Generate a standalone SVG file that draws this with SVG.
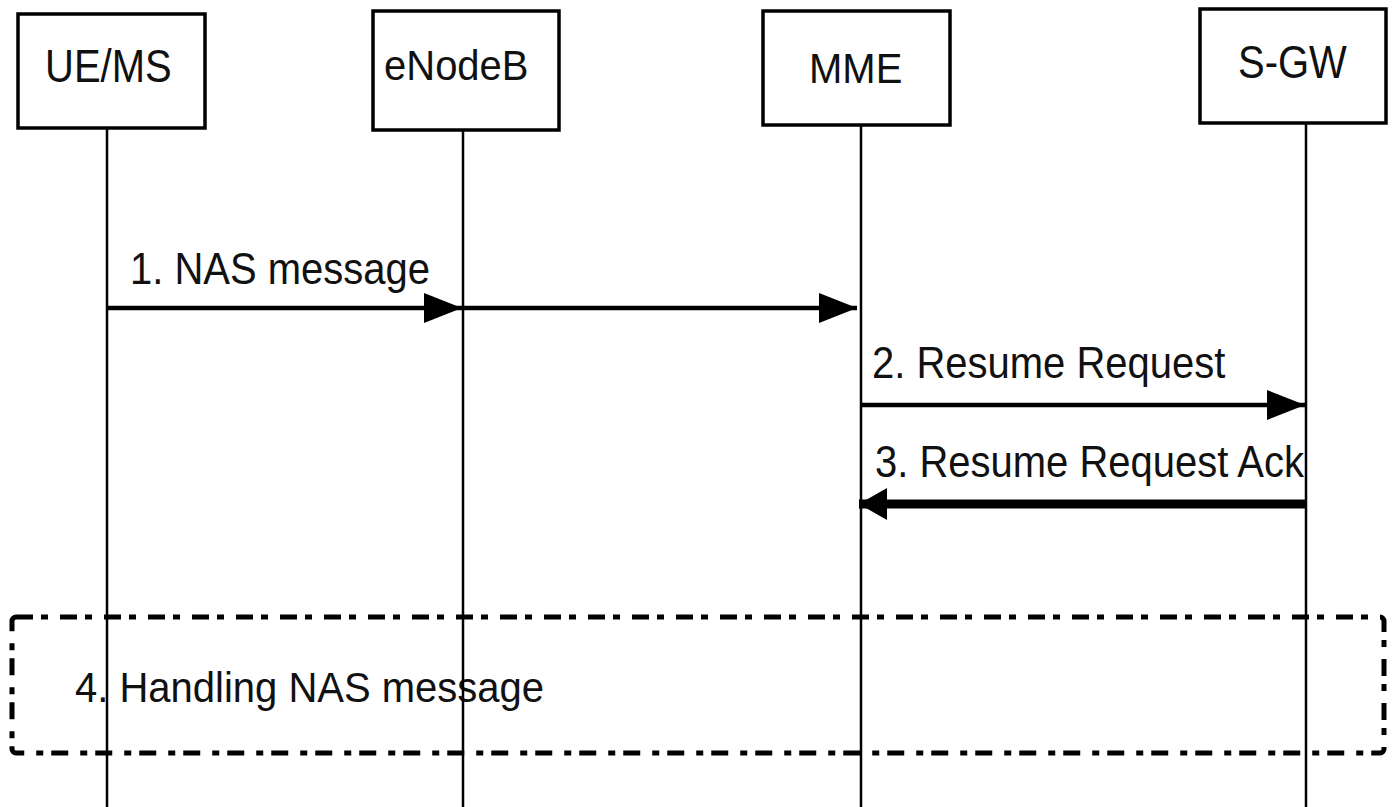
<svg xmlns="http://www.w3.org/2000/svg" width="1399" height="807" viewBox="0 0 1399 807">
<defs>
<style>
.box{fill:#fff;stroke:#000;stroke-width:3.5}
.lbl{font-family:"Liberation Sans",Arial,sans-serif;font-size:40px;fill:#111}
.life{stroke:#000;stroke-width:2.5;fill:none}
.msg{stroke:#000;stroke-width:4.5;fill:none}
.frame{fill:none;stroke:#000;stroke-width:5;stroke-dasharray:17 8 7 12}
</style>
<marker id="ah" viewBox="0 0 38 30" refX="38" refY="15" markerWidth="38" markerHeight="30" markerUnits="userSpaceOnUse" orient="auto">
<path d="M0,0 L38,15 L0,30 Z" fill="#000"/>
</marker>
<marker id="ah3" viewBox="0 0 28 32" refX="28" refY="16" markerWidth="28" markerHeight="32" markerUnits="userSpaceOnUse" orient="auto">
<path d="M0,0 L28,16 L0,32 Z" fill="#000"/>
</marker>
</defs>
<rect width="1399" height="807" fill="#fff"/>

<g id="frame4">
<rect class="frame" x="12" y="617" width="1372" height="136" rx="4"/>
<text class="lbl" transform="translate(75,702) scale(1,1.05)">4. Handling NAS message</text>
</g>

<g id="ue">
<rect class="box" x="18" y="14" width="187" height="114"/>
<text class="lbl" transform="translate(45,82) scale(1,1.15)">UE/MS</text>
</g>
<g id="enb">
<rect class="box" x="373" y="11" width="186" height="119"/>
<text class="lbl" transform="translate(384,80) scale(1,1.08)">eNodeB</text>
</g>
<g id="mme">
<rect class="box" x="763" y="11" width="187" height="114"/>
<text class="lbl" transform="translate(809,83) scale(1,1.08)">MME</text>
</g>
<g id="sgw">
<rect class="box" x="1200" y="9" width="186" height="114"/>
<text class="lbl" transform="translate(1238,78) scale(1,1.15)">S-GW</text>
</g>

<g id="lifelines">
<line class="life" x1="107" y1="128" x2="107" y2="807"/>
<line class="life" x1="463" y1="130" x2="463" y2="807"/>
<line class="life" x1="861" y1="125" x2="861" y2="807"/>
<line class="life" x1="1306" y1="123" x2="1306" y2="807"/>
</g>

<g id="connectors">
<line class="msg" x1="107" y1="308" x2="462" y2="308" marker-end="url(#ah)"/>
<line class="msg" x1="463" y1="308" x2="857" y2="308" marker-end="url(#ah)"/>
<line class="msg" x1="861" y1="405" x2="1305" y2="405" marker-end="url(#ah)"/>
<line class="msg" style="stroke-width:9" x1="1306" y1="504" x2="859" y2="504" marker-end="url(#ah3)"/>
<text class="lbl" transform="translate(130,284) scale(1,1.1)">1. NAS message</text>
<text class="lbl" transform="translate(872,378) scale(1,1.1)">2. Resume Request</text>
<text class="lbl" transform="translate(875,477) scale(1,1.1)">3. Resume Request Ack</text>
</g>
</svg>
